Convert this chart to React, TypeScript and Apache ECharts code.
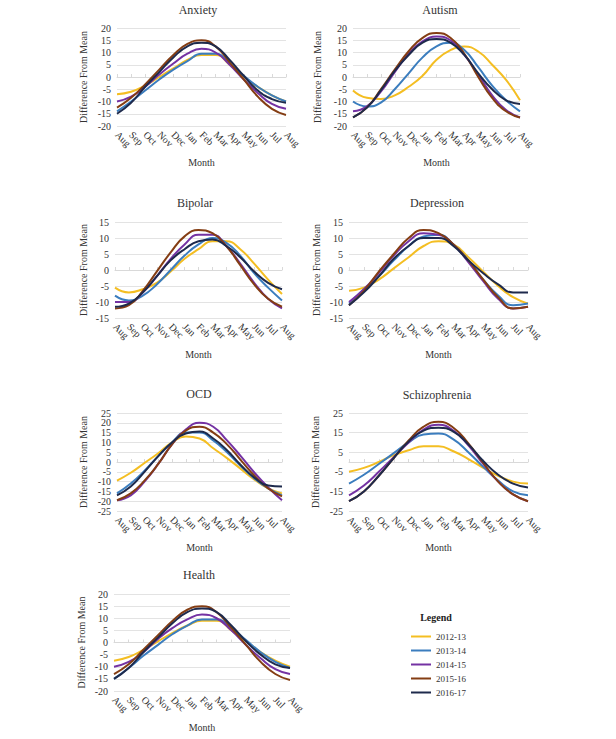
import React, { useEffect, useRef } from "react";
import * as echarts from "echarts";

const months = ["Aug", "Sep", "Oct", "Nov", "Dec", "Jan", "Feb", "Mar", "Apr", "May", "Jun", "Jul", "Aug"];
const seriesNames = ["2012-13", "2013-14", "2014-15", "2015-16", "2016-17"];
const colors = ["#F4BE22", "#3B7DBE", "#7432A3", "#843D13", "#1E2A4C"];

const anxiety = [
  [-7, -6, -3.5, 0, 3.5, 7, 9, 9, 5, 0, -4, -7.5, -10],
  [-14, -10, -5.5, -1, 3, 6.5, 9.5, 9.5, 5.5, 0.5, -4, -7.5, -10],
  [-10, -8, -4, 1, 5.5, 9.5, 11.5, 10, 5, -1, -6.5, -11, -13],
  [-12.5, -8.5, -3, 3, 9, 13.5, 15, 12.5, 6, -1, -8, -13, -15.5],
  [-15, -10.5, -4, 2, 8, 12.5, 14, 12.5, 7, 0.5, -5.5, -9, -10.5],
];
const autism = [
  [-5.5, -8.5, -9, -7.5, -4, 0.5, 7, 11, 12.4, 10.4, 5, -1.2, -9.5],
  [-10, -12, -10.5, -5, 1.5, 8, 12.5, 14, 11, 4, -3.5, -9.5, -14],
  [-14, -12, -6, 2, 9.5, 14.5, 16.5, 15, 9, 1, -7.5, -13.5, -16.5],
  [-16.5, -12.5, -5, 3, 10.5, 16, 18, 16, 9.5, 0, -8.5, -14, -16.5],
  [-16.5, -12.5, -5.5, 2.5, 9, 14, 15.5, 14, 9, 1.5, -5, -9.5, -11],
];
const bipolar = [
  [-5.5, -7, -6, -4, -0.5, 3.5, 6.5, 9, 9, 6.5, 2, -3, -7.5],
  [-8, -9.5, -8, -4.5, 0, 4.5, 8, 10, 8.5, 4.5, -1, -5.5, -9.5],
  [-10, -10, -7, -2, 3.5, 8, 11, 11, 7.5, 2, -4, -9, -12],
  [-12, -11, -6.5, -0.5, 5.5, 10.5, 12.5, 11.5, 7.5, 1.5, -4.5, -9, -11.5],
  [-11.5, -10.5, -7, -2, 3, 6.5, 9, 9.5, 7.5, 4, -0.5, -4, -6],
];
const depression = [
  [-6.5, -5.5, -3, 0.5, 4, 7.5, 9, 8, 4, -0.5, -5, -8.5, -10.5],
  [-10.5, -6, -2, 3, 7.5, 10.5, 11, 8, 3, -3, -8, -11, -10.5],
  [-10, -6, -1, 4.5, 9, 11.5, 11, 8, 2.5, -3.5, -9, -12, -11.5],
  [-11, -6.5, -0.5, 5, 10, 12.5, 11.5, 8, 3, -3, -8.5, -12, -11.5],
  [-11, -7, -2, 3.5, 7.5, 10, 10, 7.5, 3, -1, -4.5, -7, -7],
];
const ocd = [
  [-9.5, -5.5, -0.5, 4.5, 10, 13, 12, 7, 2, -3.5, -9, -13.5, -16],
  [-16, -11, -4.5, 3, 10, 15, 15, 11, 5, -2, -8.5, -13.5, -17],
  [-19.5, -17, -10, -1, 9, 16.5, 20, 18, 11, 3, -5.5, -13, -19.5],
  [-19.5, -16, -9.5, -1, 9, 16, 18, 15, 9, 1, -7, -13.5, -17.5],
  [-17, -12.5, -5, 3, 10, 14.5, 15.5, 12, 6, -1.5, -8, -12, -12.5],
];
const schizophrenia = [
  [-5, -3, 0, 3.5, 6, 8, 8, 5.5, 1.5, -3, -7, -10, -11],
  [-11, -6.5, -1, 4.5, 10, 14, 14.5, 11.5, 5, -2.5, -9.5, -15, -17],
  [-17, -12, -5, 2.5, 10, 16.5, 19, 16, 8.5, -1, -10, -16.5, -20],
  [-20, -15, -7, 2, 11, 18, 20.5, 17.5, 9.5, -0.5, -10, -16.5, -20],
  [-20, -15, -7, 2, 10.5, 16, 17.5, 15.5, 9, 0.5, -6.5, -11, -13],
];
const health = [
  [-7.5, -6, -3, 0.5, 4, 7, 9, 9, 5, 0.5, -4, -7.5, -10],
  [-15, -10.5, -5.5, -1, 3.5, 7, 9.5, 9.5, 6, 1, -4, -8, -10.5],
  [-10, -8, -4, 1.5, 6, 9.5, 11.5, 10, 5, -1, -6.5, -11, -13],
  [-13, -9, -3, 3, 9, 13.5, 15, 12.5, 6, -1, -8, -13, -15.5],
  [-15, -10.5, -4, 2, 8, 12.5, 14, 12.5, 7, 0.5, -5, -9, -10.5],
];

const panels = [
  { title: "Anxiety", data: anxiety, left: 117, right: 286, top: 28, bottom: 126, tx: 198, ty: 10, min: -20, max: 20, step: 5, yGap: 29 },
  { title: "Autism", data: autism, left: 353, right: 520, top: 28, bottom: 126, tx: 440, ty: 10, min: -20, max: 20, step: 5, yGap: 31 },
  { title: "Bipolar", data: bipolar, left: 115, right: 282, top: 222, bottom: 318, tx: 195, ty: 203, min: -15, max: 15, step: 5, yGap: 27 },
  { title: "Depression", data: depression, left: 349, right: 528, top: 222, bottom: 318, tx: 437, ty: 203, min: -15, max: 15, step: 5, yGap: 28 },
  { title: "OCD", data: ocd, left: 117, right: 282, top: 413, bottom: 511, tx: 199, ty: 394, min: -25, max: 25, step: 5, yGap: 29 },
  { title: "Schizophrenia", data: schizophrenia, left: 349, right: 528, top: 413, bottom: 511, tx: 437, ty: 395, min: -25, max: 25, step: 10, yGap: 29 },
  { title: "Health", data: health, left: 114, right: 290, top: 594, bottom: 691, tx: 199, ty: 575, min: -20, max: 20, step: 5, yGap: 28 },
];

const FONT = "'Liberation Serif', 'DejaVu Serif', serif";

export default function App() {
  const ref = useRef<HTMLDivElement>(null);
  useEffect(() => {
    if (!ref.current) return;
    const chart = echarts.init(ref.current, null, { renderer: "svg" });
    const grid: any[] = [];
    const xAxis: any[] = [];
    const yAxis: any[] = [];
    const series: any[] = [];
    const graphic: any[] = [];
    panels.forEach((p, i) => {
      grid.push({ left: p.left, top: p.top, width: p.right - p.left, height: p.bottom - p.top, containLabel: false });
      xAxis.push({
        type: "category",
        gridIndex: i,
        data: months,
        boundaryGap: false,
        axisLine: { show: false, onZero: false },
        axisTick: { show: false },
        axisLabel: { rotate: -45, fontFamily: FONT, fontSize: 10, color: "#333", margin: 7, interval: 0 },
        name: "Month",
        nameLocation: "middle",
        nameGap: 31,
        nameTextStyle: { fontFamily: FONT, fontSize: 10, color: "#333" },
        splitLine: { show: false },
      });
      xAxis.push({
        type: "category",
        gridIndex: i,
        data: months,
        boundaryGap: false,
        axisLine: { show: true, onZero: true, lineStyle: { color: "#d9d9d9", width: 1 } },
        axisTick: { show: true, length: 3, interval: 0, lineStyle: { color: "#d9d9d9" } },
        axisLabel: { show: false },
        splitLine: { show: false },
      });
      yAxis.push({
        type: "value",
        gridIndex: i,
        min: p.min,
        max: p.max,
        interval: p.step,
        axisLine: { show: false },
        axisTick: { show: false },
        axisLabel: { fontFamily: FONT, fontSize: 10, color: "#333", margin: 6 },
        splitLine: { lineStyle: { color: "#e3e3e3", width: 1 } },
        name: "Difference From Mean",
        nameLocation: "middle",
        nameGap: p.yGap,
        nameTextStyle: { fontFamily: FONT, fontSize: 10, color: "#333" },
      });
      p.data.forEach((vals, k) => {
        series.push({
          type: "line",
          name: seriesNames[k],
          xAxisIndex: i * 2,
          yAxisIndex: i,
          data: vals,
          smooth: true,
          symbol: "none",
          lineStyle: { color: colors[k], width: 2 },
          itemStyle: { color: colors[k] },
        });
      });
      graphic.push({
        type: "text",
        x: p.tx,
        y: p.ty,
        style: { text: p.title, fontFamily: FONT, fontSize: 12, fontWeight: "normal", fill: "#333", textAlign: "center", textVerticalAlign: "middle" },
      });
    });
    graphic.push({
      type: "text",
      x: 436,
      y: 617,
      style: { text: "Legend", fontFamily: FONT, fontSize: 10, fontWeight: "bold", fill: "#222", textAlign: "center", textVerticalAlign: "middle" },
    });
    chart.setOption({
      animation: false,
      backgroundColor: "#ffffff",
      grid,
      xAxis,
      yAxis,
      series,
      graphic,
      legend: {
        data: seriesNames,
        orient: "vertical",
        left: 406,
        top: 627,
        icon: "rect",
        itemWidth: 20,
        itemHeight: 2,
        itemGap: 5,
        textStyle: { fontFamily: FONT, fontSize: 9, color: "#333" },
      },
    });
    return () => chart.dispose();
  }, []);
  return <div ref={ref} style={{ position: "absolute", left: 0, top: 0, width: 616, height: 739 }} />;
}
